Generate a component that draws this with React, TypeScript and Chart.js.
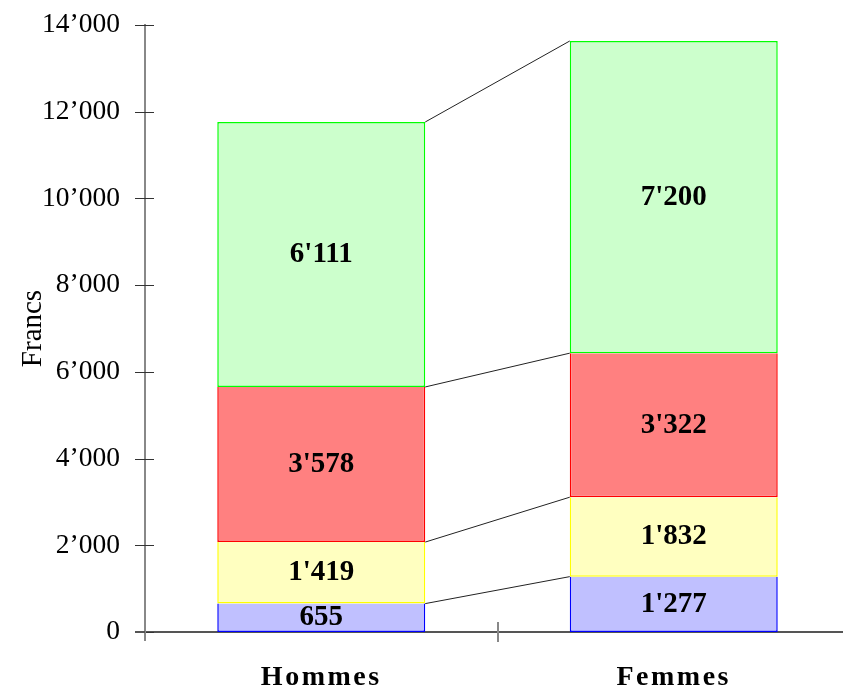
import React, { useEffect, useRef } from "react";
import { Chart, registerables } from "chart.js";

Chart.register(...registerables);

const categories = ["Hommes", "Femmes"];
const seriesNames = ["Bleu", "Jaune", "Rouge", "Vert"];
const blueValues = [655, 1277];
const yellowValues = [1419, 1832];
const redValues = [3578, 3322];
const greenValues = [6111, 7200];
const yTicks = [0, 2000, 4000, 6000, 8000, 10000, 12000, 14000];
const yTitle = "Francs";

const SERIF = "'Liberation Serif', 'Times New Roman', serif";

const fmtTick = (v: number) => String(v).replace(/\B(?=(\d{3})+(?!\d))/g, "\u2019");
const fmtLabel = (v: number) => String(v).replace(/\B(?=(\d{3})+(?!\d))/g, "'");

const overlayPlugin = {
  id: "overlay",
  afterDatasetsDraw(chart: any) {
    const ctx = chart.ctx;
    const x = chart.scales.x;
    const y = chart.scales.y;
    const area = chart.chartArea;
    ctx.save();
    // connecting lines between stacks
    ctx.strokeStyle = "#222";
    ctx.lineWidth = 1;
    const n = chart.data.datasets.length;
    for (let d = 0; d < n; d++) {
      const meta = chart.getDatasetMeta(d);
      const a = meta.data[0] as any;
      const b = meta.data[1] as any;
      ctx.beginPath();
      ctx.moveTo(a.x + a.width / 2, a.y);
      ctx.lineTo(b.x - b.width / 2, b.y);
      ctx.stroke();
    }
    // value labels
    ctx.fillStyle = "#000";
    ctx.font = `bold 29px ${SERIF}`;
    ctx.textAlign = "center";
    ctx.textBaseline = "middle";
    for (let d = 0; d < n; d++) {
      const meta = chart.getDatasetMeta(d);
      meta.data.forEach((el: any, i: number) => {
        const v = chart.data.datasets[d].data[i] as number;
        ctx.fillText(fmtLabel(v), el.x, (el.y + el.base) / 2);
      });
    }
    // axis cross ticks
    const ax = x.left;
    ctx.strokeStyle = "#333";
    ctx.lineWidth = 1;
    y.ticks.forEach((t: any) => {
      const py = Math.round(y.getPixelForValue(t.value)) + 0.5;
      ctx.beginPath();
      ctx.moveTo(ax - 10, py);
      ctx.lineTo(ax + 9, py);
      ctx.stroke();
    });
    // y axis extension below
    ctx.strokeStyle = "#888";
    ctx.lineWidth = 2;
    ctx.beginPath();
    ctx.moveTo(ax, area.bottom);
    ctx.lineTo(ax, area.bottom + 9);
    ctx.stroke();
    // x category boundary ticks
    ctx.strokeStyle = "#888";
    ctx.lineWidth = 2;
    const catW = (x.right - x.left) / categories.length;
    for (let i = 1; i < categories.length; i++) {
      const px = Math.round(x.left + catW * i);
      ctx.beginPath();
      ctx.moveTo(px, area.bottom - 10);
      ctx.lineTo(px, area.bottom + 10);
      ctx.stroke();
    }
    // x axis extension to the left
    ctx.strokeStyle = "#555";
    ctx.lineWidth = 2;
    ctx.beginPath();
    ctx.moveTo(ax - 10, area.bottom);
    ctx.lineTo(ax, area.bottom);
    ctx.stroke();
    ctx.restore();
    ctx.letterSpacing = "2.5px";
  },
  afterDraw(chart: any) {
    chart.ctx.letterSpacing = "0px";
  },
};

export default function App() {
  const ref = useRef<HTMLCanvasElement>(null);
  useEffect(() => {
    if (!ref.current) return;
    const mk = (label: string, data: number[], bg: string, border: string, top = false) => ({
      label,
      data,
      backgroundColor: bg,
      borderColor: border,
      borderWidth: 1.5,
      borderSkipped: top ? false : "end",
      barPercentage: 0.59,
      categoryPercentage: 1,
    });
    const chart = new Chart(ref.current, {
      type: "bar",
      data: {
        labels: categories,
        datasets: [
          mk(seriesNames[0], blueValues, "#C0C0FF", "#0000FF"),
          mk(seriesNames[1], yellowValues, "#FFFFC0", "#FFFF00"),
          mk(seriesNames[2], redValues, "#FF8080", "#FF0000"),
          mk(seriesNames[3], greenValues, "#CCFFCC", "#00FF00", true),
        ] as any,
      },
      options: {
        responsive: false,
        animation: false,
        devicePixelRatio: 1,
        layout: { padding: { top: 25, right: 10, left: 0, bottom: 0 } },
        plugins: { legend: { display: false }, tooltip: { enabled: false } },
        scales: {
          x: {
            stacked: true,
            afterFit: (s: any) => {
              s.height = 58;
              s.paddingLeft = 0;
              s.paddingRight = 0;
            },
            grid: { display: false, drawTicks: false },
            border: { display: true, color: "#555", width: 2 },
            ticks: {
              z: 1,
              color: "#000",
              padding: 29,
              font: { family: SERIF, size: 28, weight: "bold" },
            },
          },
          y: {
            stacked: true,
            min: 0,
            max: 14000,
            afterFit: (s: any) => {
              s.width = 145;
              s.paddingTop = 0;
              s.paddingBottom = 0;
            },
            afterBuildTicks: (s: any) => {
              s.ticks = yTicks.map((v) => ({ value: v }));
            },
            grid: { display: false, drawTicks: false },
            border: { display: true, color: "#888", width: 2 },
            ticks: {
              color: "#000",
              padding: 25,
              font: { family: SERIF, size: 27.5 },
              callback: (v: any) => fmtTick(Number(v)),
            },
            title: {
              display: true,
              text: yTitle,
              color: "#000",
              padding: { top: 16, bottom: 0 },
              font: { family: SERIF, size: 29 },
            },
          },
        },
      },
      plugins: [overlayPlugin],
    });
    return () => chart.destroy();
  }, []);
  return (
    <div style={{ position: "fixed", left: 0, top: 0, width: 860, height: 690, background: "#fff" }}>
      <canvas ref={ref} width={860} height={690} style={{ display: "block" }} />
    </div>
  );
}
